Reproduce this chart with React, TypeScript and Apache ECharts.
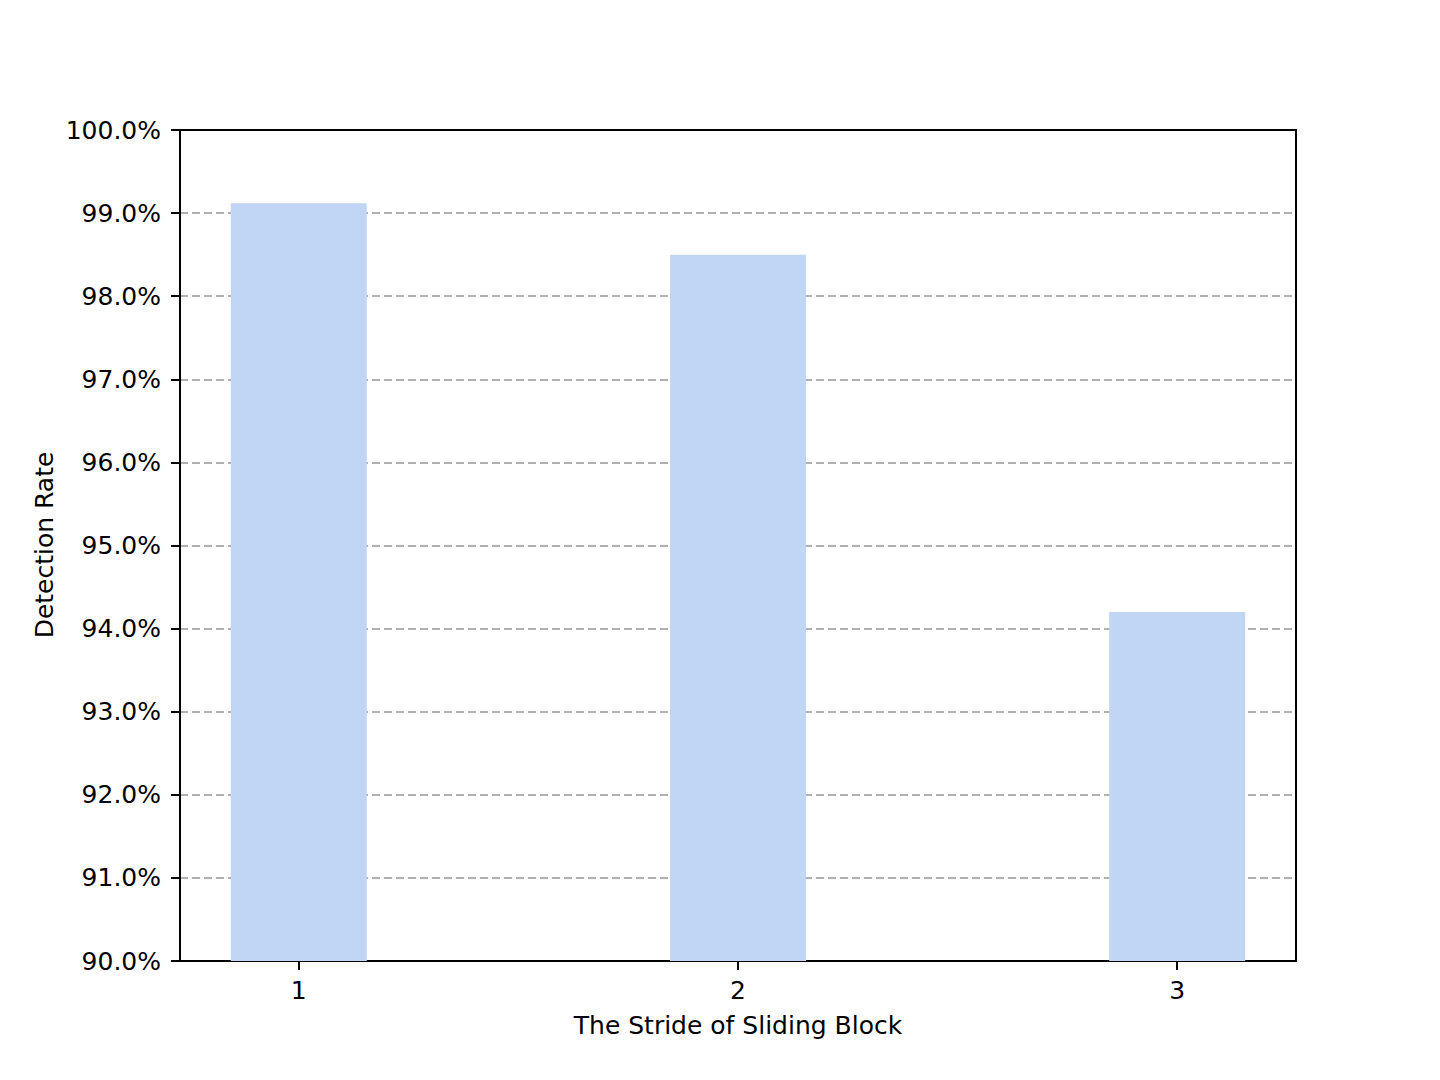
import React, { useEffect, useRef } from "react";
import * as echarts from "echarts";

const strides = [1, 2, 3];
const detectionRates = [99.12, 98.5, 94.2];
const xTickValues = [1, 2, 3];
const yMin = 90;
const yMax = 100;
const xLabel = "The Stride of Sliding Block";
const yLabel = "Detection Rate";

export default function App() {
  const ref = useRef<HTMLDivElement>(null);
  useEffect(() => {
    if (!ref.current) return;
    const chart = echarts.init(ref.current, null, { renderer: "svg" });
    const font = "DejaVu Sans";
    chart.setOption({
      animation: false,
      backgroundColor: "#ffffff",
      textStyle: { fontFamily: font },
      grid: {
        left: 180,
        top: 130,
        width: 1116,
        height: 831,
        show: true,
        borderColor: "#000000",
        borderWidth: 2,
        backgroundColor: "transparent",
      },
      xAxis: {
        type: "value",
        min: 0.7295,
        max: 3.2705,
        splitLine: { show: false },
        axisLine: { show: true, lineStyle: { color: "#000", width: 2 } },
        axisTick: {
          show: true,
          length: 9,
          lineStyle: { color: "#000", width: 2 },
          customValues: xTickValues,
        },
        axisLabel: {
          customValues: xTickValues,
          fontSize: 25,
          color: "#000",
          fontFamily: font,
          margin: 17,
          formatter: (v: number) => String(Math.round(v)),
        },
      },
      yAxis: {
        type: "value",
        min: yMin,
        max: yMax,
        interval: 1,
        axisLine: { show: true, lineStyle: { color: "#000", width: 2 } },
        axisTick: { show: true, length: 9, lineStyle: { color: "#000", width: 2 } },
        axisLabel: {
          fontSize: 25,
          color: "#000",
          fontFamily: font,
          margin: 19,
          formatter: (v: number) => v.toFixed(1) + "%",
        },
        splitLine: {
          show: true,
          showMinLine: false,
          showMaxLine: false,
          lineStyle: { color: "#b0b0b0", width: 2, type: [8, 4] },
        },
      },
      graphic: [
        {
          type: "text",
          x: 738,
          y: 1025,
          style: {
            text: xLabel,
            fontSize: 25,
            fontFamily: font,
            fill: "#000",
            textAlign: "center",
            textVerticalAlign: "middle",
          },
        },
        {
          type: "text",
          x: 44,
          y: 545,
          rotation: Math.PI / 2,
          style: {
            text: yLabel,
            fontSize: 25,
            fontFamily: font,
            fill: "#000",
            textAlign: "center",
            textVerticalAlign: "middle",
          },
        },
      ],
      series: [
        {
          type: "bar",
          data: strides.map((s, i) => [s, detectionRates[i]]),
          barWidth: 136,
          itemStyle: { color: "#c1d5f5" },
          clip: true,
        },
      ],
    });
    return () => chart.dispose();
  }, []);
  return (
    <div
      ref={ref}
      style={{ position: "absolute", left: 0, top: 0, width: 1440, height: 1080 }}
    />
  );
}
